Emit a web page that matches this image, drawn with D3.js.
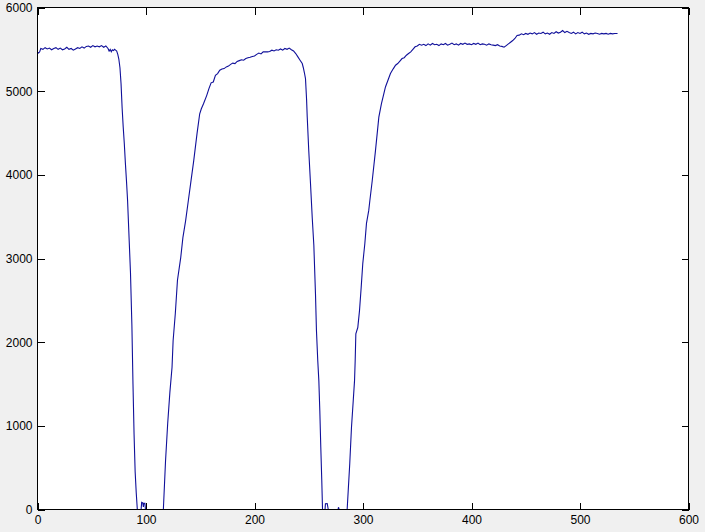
<!DOCTYPE html>
<html><head><meta charset="utf-8">
<script src="https://cdn.jsdelivr.net/npm/d3@7"></script>
<style>
html,body{margin:0;padding:0;background:#f0f0f0;}
svg{display:block;}
text{font-family:"Liberation Sans",Arial,sans-serif;font-size:12px;fill:#000;}
</style></head>
<body>
<svg id="c" width="705" height="532"></svg>
<script>
const xTicks = [0,100,200,300,400,500,600];
const yTicks = [0,1000,2000,3000,4000,5000,6000];
const xs = [0,1,2,3,5,7,9,11,13,15,17,19,21,23,25,27,29,31,33,35,37,39,41,43,45,47,49,51,53,55,57,59,61,63,65,66,67,68,69,70,71,72,73,74,75,76,77,78,79,80,81,82,83,84.5,85.7,87,88,89,90,91,92,
95.5,96,97,97.6,98,99,99.5,116,118,120,122,124,125,127,129,132,134,136.5,139,141.5,144,147,149.5,151,153,156,158,160,162,164,166,168,170,172,174,176,178,180,182,184,186,188,190,192,194,196,198,200,202,204,206,208,210,212,214,216,218,220,222,224,226,228,230,232,234,236,238,240,242,244,245,246,247,248,248.6,250,251.6,253.2,254.7,256.2,257.1,258.3,259.3,260.2,261.1,262,262.7,
265,265.4,267,268,277,277.4,278,285.4,286.4,287.8,289.4,291,292.2,292.8,293.4,295.2,296.8,298.3,299.8,301.7,303.2,305.3,306.3,308.5,311.5,314.6,317,319,320.7,323,325.3,328,330,332,334,336,338,340,342,344,346,348,350,352,354,
356,358,360,362,364,366,368,370,372,374,376,378,380,382,384,386,388,390,392,394,396,398,400,402,404,406,408,410,412,414,416,418,420,422,424,426,428,430,432,434,436,438,440,442,444,446,448,450,452,454,456,458,460,462,464,466,468,470,472,474,476,478,480,482,484,486,488,490,492,494,496,498,500,502,504,506,508,510,512,514,516,518,520,522,524,526,528,530,532,534.6];
const ys = [5465,5455,5470,5510,5500,5520,5505,5515,5495,5510,5520,5500,5515,5495,5505,5525,5500,5510,5490,5505,5520,5510,5530,5515,5535,5540,5525,5545,5530,5540,5530,5545,5525,5540,5510,5480,5500,5470,5495,5485,5500,5490,5480,5440,5380,5280,5090,4800,4570,4375,4140,3930,3700,3215,2830,2200,1500,900,450,200,0,
0,85,80,30,75,75,0,0,580,1030,1400,1700,2020,2340,2740,3010,3250,3450,3690,3930,4170,4490,4730,4790,4850,4950,5030,5100,5110,5190,5210,5250,5265,5270,5290,5300,5320,5335,5330,5355,5365,5375,5370,5390,5400,5405,5415,5420,5440,5455,5445,5470,5470,5470,5475,5490,5480,5495,5490,5505,5490,5510,5500,5515,5495,5480,5450,5410,5370,5330,5280,5220,5150,4900,4690,4290,3900,3490,3155,2580,2140,1780,1540,1180,745,350,0,
0,70,72,0,0,27,0,0,230,550,985,1300,1540,1780,2100,2175,2380,2650,2940,3180,3420,3575,3690,3930,4290,4690,4850,4960,5050,5130,5210,5270,5310,5330,5360,5390,5400,5430,5450,5470,5500,5530,5540,5560,5550,
5560,5545,5565,5550,5570,5555,5560,5545,5565,5555,5570,5550,5560,5575,5555,5565,5550,5570,5560,5575,5560,5565,5555,5570,5560,5575,5555,5565,5560,5550,5565,5555,5550,5545,5555,5540,5535,5525,5545,5565,5585,5605,5630,5665,5670,5685,5675,5690,5680,5695,5685,5700,5680,5695,5690,5705,5685,5695,5680,5700,5690,5710,5695,5705,5725,5700,5715,5700,5690,5705,5685,5700,5690,5705,5685,5695,5680,5690,5685,5695,5690,5680,5690,5685,5690,5680,5690,5685,5690,5690];

const svg = d3.select("#c");
const L = 37.5, R = 688.5, T = 7.5, B = 509.5;
const x = d3.scaleLinear().domain([0,600]).range([L,R]);
const y = d3.scaleLinear().domain([0,6000]).range([B,T]);

svg.append("rect").attr("x",L).attr("y",T).attr("width",R-L).attr("height",B-T)
  .attr("fill","#fff").attr("stroke","none");

const data = xs.map((v,i)=>[v,ys[i]]);
svg.append("path").datum(data)
  .attr("fill","none").attr("stroke","#10109a").attr("stroke-width",1.1)
  .attr("d", d3.line().x(d=>x(d[0])).y(d=>y(d[1])));

const ax = g => g.selectAll(".domain").remove();
svg.append("g").attr("transform",`translate(0,${B})`)
  .call(d3.axisBottom(x).tickValues(xTicks).tickSize(-7).tickPadding(6).tickFormat(d3.format("d")))
  .call(ax);
svg.append("g").attr("transform",`translate(0,${T})`)
  .call(d3.axisTop(x).tickValues(xTicks).tickSize(-7).tickFormat(""))
  .call(ax);
svg.append("g").attr("transform",`translate(${L},0)`)
  .call(d3.axisLeft(y).tickValues(yTicks).tickSize(-7).tickPadding(5).tickFormat(d3.format("d")))
  .call(ax);
svg.append("g").attr("transform",`translate(${R},0)`)
  .call(d3.axisRight(y).tickValues(yTicks).tickSize(-7).tickFormat(""))
  .call(ax);
svg.selectAll(".tick line").attr("stroke","#000").attr("shape-rendering","crispEdges");
svg.selectAll(".tick text").style("font-family","'Liberation Sans',Arial,sans-serif").style("font-size","12px").attr("fill","#000");

svg.append("rect").attr("x",L).attr("y",T).attr("width",R-L).attr("height",B-T)
  .attr("fill","none").attr("stroke","#000").attr("stroke-width",1).attr("shape-rendering","crispEdges");
</script>
</body></html>
